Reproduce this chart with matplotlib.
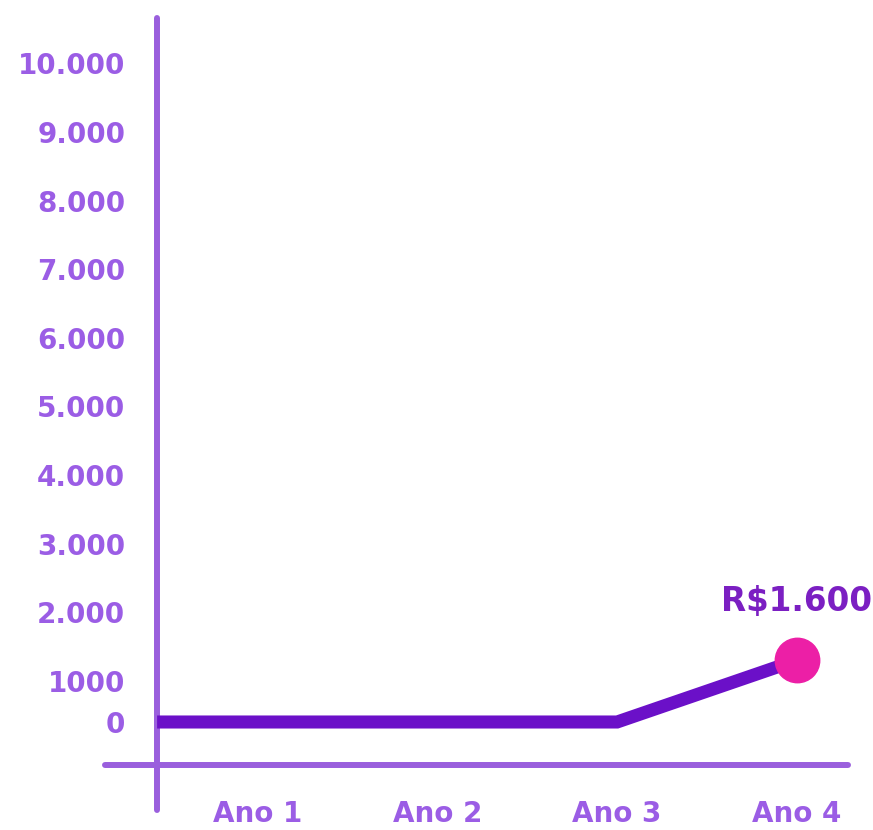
import numpy as np
import matplotlib
matplotlib.use("Agg")
import matplotlib.pyplot as plt

# data
anos = ["Ano 1", "Ano 2", "Ano 3", "Ano 4"]
ano_pos = [1, 2, 3, 4]
valores = [0, 0, 0, 1300]          # as drawn on the chart
destaque = "R$1.600"
y_ticks = [0, 1000, 2000, 3000, 4000, 5000, 6000, 7000, 8000, 9000, 10000]
y_labels = ["0", "1000", "2.000", "3.000", "4.000", "5.000",
            "6.000", "7.000", "8.000", "9.000", "10.000"]

AXIS_C = "#9a5fdd"
TICK_C = "#9b5de5"
LINE_C = "#6b10c8"
DOT_C = "#ec1fa6"
LABEL_C = "#7b1fc2"

plt.rcParams["font.family"] = ["DejaVu Sans"]


# the first step (0 -> 1000) is drawn shorter than the others
def fwd(v):
    v = np.asarray(v, dtype=float)
    return np.where(v <= 1000, v * 0.6, 600 + (v - 1000))


def inv(f):
    f = np.asarray(f, dtype=float)
    return np.where(f <= 600, f / 0.6, f - 600 + 1000)


fig = plt.figure(figsize=(8.73, 8.30), dpi=100)
ax = fig.add_axes([105 / 873, 20 / 830, 743 / 873, 792 / 830])
ax.set_yscale("function", functions=(fwd, inv))
ax.set_xlim(0.15, 4.285)
ax.set_ylim(-2138, 10662)

y_axis_x = 0.44
ax.spines["left"].set_position(("data", y_axis_x))
ax.spines["bottom"].set_position(("data", -1045))
for s in ["top", "right"]:
    ax.spines[s].set_visible(False)
for s in ["left", "bottom"]:
    ax.spines[s].set_color(AXIS_C)
    ax.spines[s].set_linewidth(4.3)
    ax.spines[s].set_capstyle("round")

ax.set_yticks(y_ticks)
ax.set_yticklabels(y_labels)
ax.set_xticks(ano_pos)
ax.set_xticklabels(anos)
ax.tick_params(axis="y", length=0, pad=23, labelsize=20, labelcolor=TICK_C)
ax.tick_params(axis="x", length=0, pad=25, labelsize=20, labelcolor=TICK_C)
for t in ax.get_xticklabels() + ax.get_yticklabels():
    t.set_fontweight("bold")
ax.minorticks_off()

# line starts at the y axis
xs = [y_axis_x] + ano_pos
ys = [valores[0]] + valores
ax.plot(xs, ys, color=LINE_C, lw=9.4, solid_capstyle="butt",
        solid_joinstyle="miter", zorder=3)
ax.plot(ano_pos[-1], valores[-1], "o", color=DOT_C, ms=32, zorder=4)
ax.annotate(destaque, (ano_pos[-1], valores[-1]), xytext=(0, 42),
            textcoords="offset points", ha="center", va="center",
            fontsize=23.5, fontweight="bold", color=LABEL_C)

fig.savefig("out.png", dpi=100)
